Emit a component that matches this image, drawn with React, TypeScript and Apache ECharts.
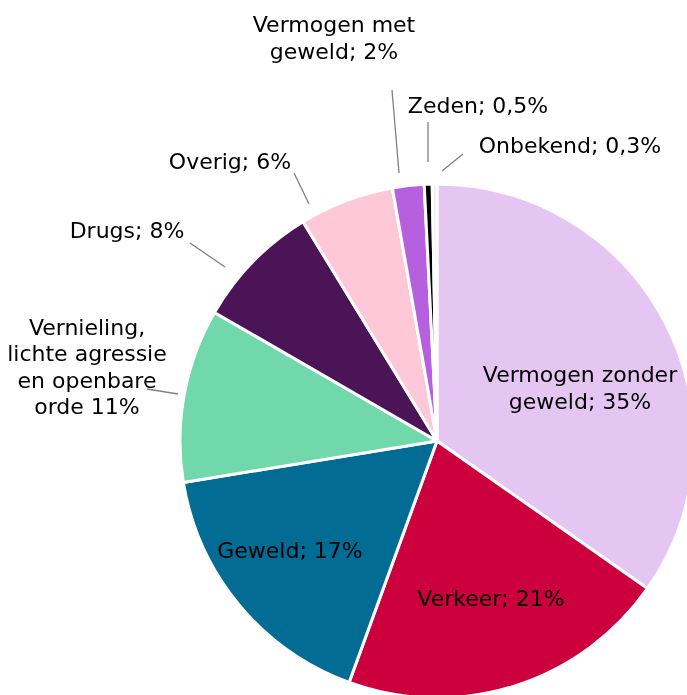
import React, { useEffect, useRef } from "react";
import * as echarts from "echarts";

const categories = [
  "Vermogen zonder geweld",
  "Verkeer",
  "Geweld",
  "Vernieling, lichte agressie en openbare orde",
  "Drugs",
  "Overig",
  "Vermogen met geweld",
  "Zeden",
  "Onbekend",
];
const values = [35, 21, 17, 11, 8, 6, 2, 0.5, 0.3];
const labelTexts = [
  "Vermogen zonder\ngeweld; 35%",
  "Verkeer; 21%",
  "Geweld; 17%",
  "Vernieling,\nlichte agressie\nen openbare\norde 11%",
  "Drugs; 8%",
  "Overig; 6%",
  "Vermogen met\ngeweld; 2%",
  "Zeden; 0,5%",
  "Onbekend; 0,3%",
];
const colors = [
  "#e5c6f2",
  "#cc003d",
  "#036c94",
  "#70d8ab",
  "#4a1457",
  "#ffc8d9",
  "#b65fdf",
  "#000000",
  "#ececec",
];

// label centre positions (px) and leader line points
const labelPos: [number, number][] = [
  [580, 388],
  [491, 598],
  [290, 550],
  [87, 367],
  [127, 230],
  [230, 161],
  [334, 38],
  [478, 105],
  [570, 145],
];
const leaderLines: (number[][] | null)[] = [
  null,
  null,
  null,
  [[147, 389], [178, 394]],
  [[190, 243], [225, 267]],
  [[294, 173], [309, 204]],
  [[392, 90], [399, 173]],
  [[428, 122], [428, 162]],
  [[463, 154], [442, 171]],
];

export default function App() {
  const ref = useRef<HTMLDivElement>(null);
  useEffect(() => {
    if (!ref.current) return;
    const chart = echarts.init(ref.current, null, { renderer: "svg" });
    chart.setOption({
      animation: false,
      series: [
        {
          type: "pie",
          center: [437, 441],
          radius: 257,
          startAngle: 90,
          clockwise: true,
          avoidLabelOverlap: false,
          itemStyle: { borderColor: "#ffffff", borderWidth: 3 },
          label: {
            show: true,
            position: "outside",
            color: "#000000",
            fontFamily: "DejaVu Sans, Verdana, sans-serif",
            fontSize: 22,
            lineHeight: 26.5,
            align: "center",
            formatter: (p: any) => labelTexts[p.dataIndex],
          },
          labelLine: {
            show: true,
            lineStyle: { color: "#808080", width: 1.3 },
          },
          labelLayout: (p: any) => {
            const i = p.dataIndex;
            const out: any = {
              x: labelPos[i][0],
              y: labelPos[i][1],
              align: "center",
              verticalAlign: "middle",
            };
            if (leaderLines[i]) out.labelLinePoints = leaderLines[i];
            return out;
          },
          emphasis: { disabled: true },
          data: categories.map((c, i) => ({
            name: c,
            value: values[i],
            itemStyle: { color: colors[i] },
            labelLine: { show: leaderLines[i] != null },
          })),
        },
      ],
    });
    return () => chart.dispose();
  }, []);
  return (
    <div
      ref={ref}
      style={{ position: "fixed", left: 0, top: 0, width: 687, height: 695 }}
    />
  );
}
